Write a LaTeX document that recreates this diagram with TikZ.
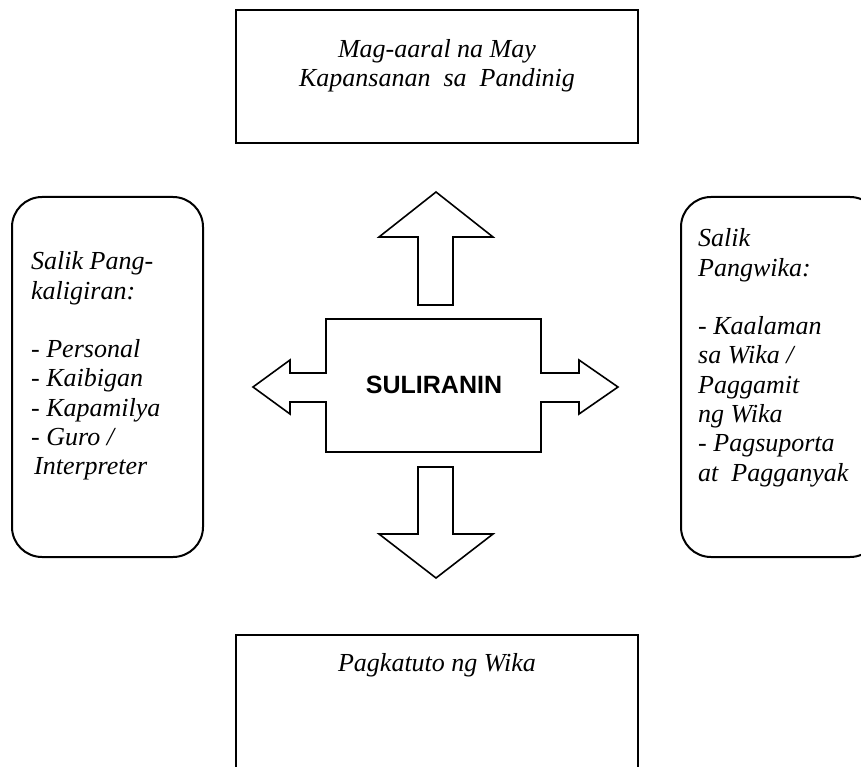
\documentclass[tikz,border=0pt]{standalone}
\usepackage{fontspec}
\setmainfont{Liberation Serif}
\newfontfamily\titlefont{Liberation Sans}
\begin{document}
\begin{tikzpicture}[x=1pt,y=-1pt,
  outline/.style={draw=black,line width=1.6pt,line join=miter},
  boxline/.style={draw=black,line width=2pt},
  lbl/.style={font=\fontsize{26}{29.3}\selectfont\itshape,inner sep=0pt},
]
\useasboundingbox (0,0) rectangle (861,767);
\clip (0,0) rectangle (861,767);
% top and bottom boxes
\draw[boxline] (236,10) rectangle (638,143);
\node[lbl,align=center] (top) at (437,66) {Mag-aaral na May\\Kapansanan\ \ sa\ \ Pandinig};
\draw[boxline] (236,635) rectangle (638,800);
\node[lbl] (bottom) at (437,665) {Pagkatuto ng Wika};
% side rounded boxes
\draw[boxline,rounded corners=30pt] (12,197) rectangle (203,557);
\node[lbl,align=left,anchor=north west] (left) at (31,251.5)
  {Salik Pang-\\kaligiran:\\[29.3pt]- Personal\\- Kaibigan\\- Kapamilya\\- Guro /\\\hspace{3pt}Interpreter};
\draw[boxline,rounded corners=30pt] (681,197) rectangle (880,557);
\node[lbl,align=left,anchor=north west] (right) at (698,228.5)
  {Salik\\Pangwika:\\[29.3pt]- Kaalaman\\sa Wika /\\Paggamit\\ng Wika\\- Pagsuporta\\at\ \ Pagganyak};
% central cross
\draw[outline] (326,319) -- (541,319) -- (541,373) -- (579,373) -- (579,360) -- (618,387)
  -- (579,414) -- (579,402) -- (541,402) -- (541,452) -- (326,452) -- (326,402)
  -- (290,402) -- (290,414) -- (253,387) -- (290,360) -- (290,373) -- (326,373) -- cycle;
\node[font=\titlefont\bfseries\fontsize{25}{30}\selectfont,inner sep=0pt] (center) at (434,385) {SULIRANIN};
\draw[outline] (418,305) -- (418,237) -- (379,237) -- (436,192) -- (493,237) -- (453,237) -- (453,305) -- cycle;
\draw[outline] (418,467) -- (453,467) -- (453,534) -- (493,534) -- (436,578) -- (379,534) -- (418,534) -- cycle;
\end{tikzpicture}
\end{document}
